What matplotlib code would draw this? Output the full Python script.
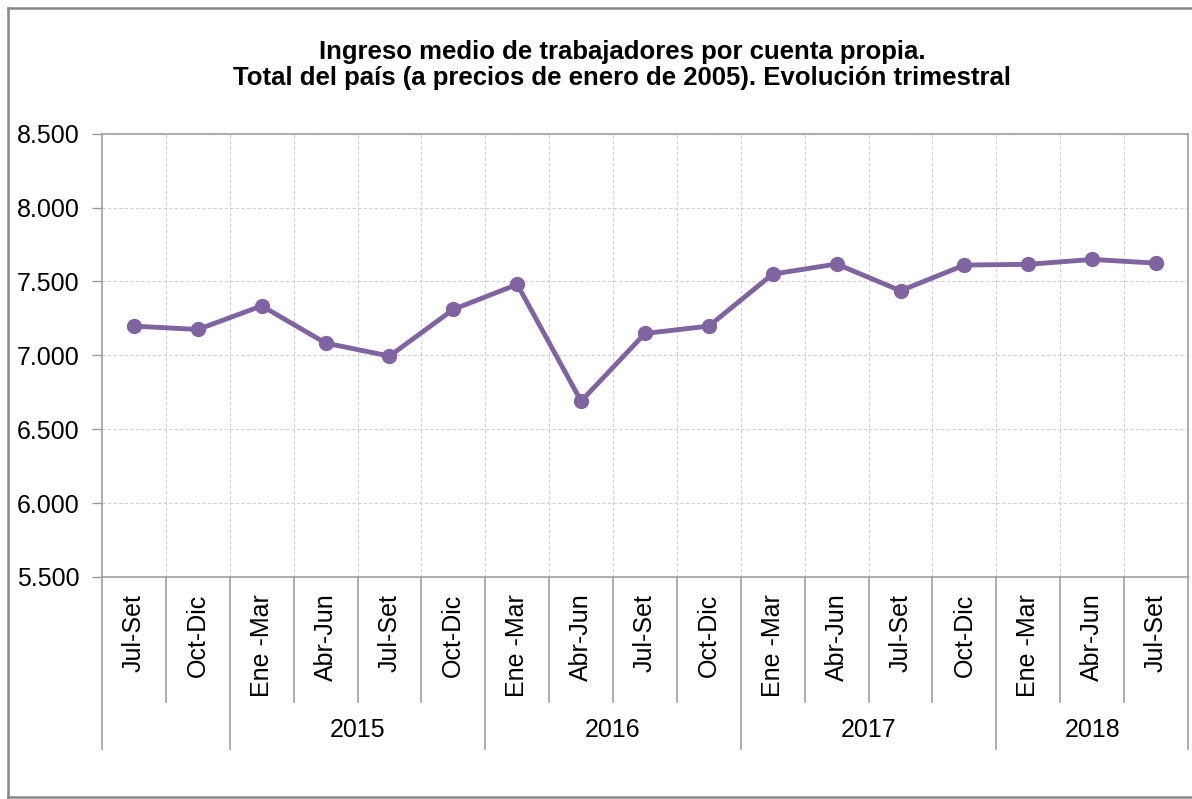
import matplotlib.pyplot as plt
from matplotlib.ticker import FuncFormatter
from matplotlib.lines import Line2D

plt.rcParams['font.family'] = ['Liberation Sans', 'DejaVu Sans']

trimestres = ["Jul-Set", "Oct-Dic",
              "Ene -Mar", "Abr-Jun", "Jul-Set", "Oct-Dic",
              "Ene -Mar", "Abr-Jun", "Jul-Set", "Oct-Dic",
              "Ene -Mar", "Abr-Jun", "Jul-Set", "Oct-Dic",
              "Ene -Mar", "Abr-Jun", "Jul-Set"]
anios = ["", "2015", "2016", "2017", "2018"]
trim_por_anio = [2, 4, 4, 4, 3]
ingreso = [7198, 7175, 7335, 7083, 6995, 7311, 7480, 6690, 7148,
           7198, 7550, 7618, 7437, 7611, 7616, 7649, 7624]

W, H = 1192, 799
fig = plt.figure(figsize=(W / 100, H / 100), dpi=100)
ax = fig.add_axes([102 / W, (H - 577) / H, (1188 - 102) / W, (577 - 133.7) / H])

x = list(range(len(ingreso)))
ax.plot(x, ingreso, color="#8064A2", lw=3.5, marker="o", markersize=10,
        solid_joinstyle="round", zorder=3)

ax.set_xlim(-0.5, len(ingreso) - 0.5)
ax.set_ylim(5500, 8500)
ax.set_yticks(range(5500, 8501, 500))
ax.yaxis.set_major_formatter(FuncFormatter(lambda v, p: f"{int(v):,}".replace(",", ".")))
ax.tick_params(axis="y", labelsize=18, length=7, width=1, color="#999999", pad=9)

ax.set_xticks(x)
ax.set_xticklabels(trimestres, rotation=90, fontsize=18, va="top")
ax.tick_params(axis="x", length=0, pad=12)

# grilla
ax.set_xticks([i + 0.5 for i in x[:-1]], minor=True)
ax.grid(True, which="minor", axis="x", color="#d0d0d0", ls=(0, (3, 2)), lw=0.8)
ax.grid(True, which="major", axis="y", color="#d0d0d0", ls=(0, (3, 2)), lw=0.8)
ax.tick_params(axis="x", which="minor", length=0)
for s in ax.spines.values():
    s.set_color("#a0a0a0")
    s.set_linewidth(1.2)

# separadores del eje categorias
trans = ax.get_xaxis_transform()
limites_anio = [-0.5]
acum = -0.5
for n in trim_por_anio:
    acum += n
    limites_anio.append(acum)
for i in range(len(ingreso) + 1):
    xb = i - 0.5
    y1 = -0.389 if xb in limites_anio else -0.281
    ax.add_line(Line2D([xb, xb], [0, y1], transform=trans, color="#a0a0a0",
                       lw=1.2, clip_on=False))
inicio = -0.5
for nombre, n in zip(anios, trim_por_anio):
    ax.text(inicio + n / 2, -0.345, nombre, transform=trans, ha="center",
            va="center", fontsize=18)
    inicio += n

fig.text(622 / W, 1 - 65 / H,
         "Ingreso medio de trabajadores por cuenta propia.\n"
         "Total del país (a precios de enero de 2005). Evolución trimestral",
         ha="center", va="center", fontsize=18.5, fontweight="bold",
         linespacing=1.15)

# borde del grafico
for xs, ys in [([8, 8], [8, 797]), ([8, W], [8, 8]), ([8, W], [797, 797])]:
    fig.add_artist(Line2D([v / W for v in xs], [1 - v / H for v in ys],
                          color="#888888", lw=1.8))

fig.savefig("out.png", dpi=100)
